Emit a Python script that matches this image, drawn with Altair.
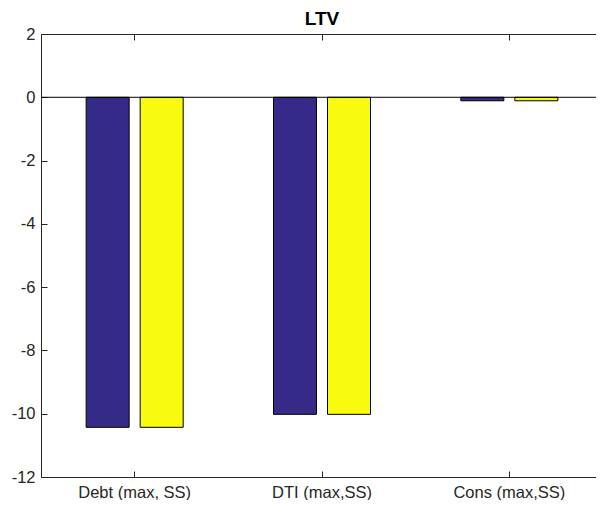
import altair as alt
import pandas as pd

title_text = ["LTV"]
categories = ["Debt (max, SS)", "DTI (max,SS)", "Cons (max,SS)"]
series_names = ["Series 1", "Series 2"]
series1 = [-10.43, -10.02, -0.11]
series2 = [-10.43, -10.02, -0.11]
y_ticks = [-12, -10, -8, -6, -4, -2, 0, 2]
colors = ["#352a87", "#f9fb0e"]

rows = []
for c, a, b in zip(categories, series1, series2):
    rows.append({"cat": c, "series": series_names[0], "value": a})
    rows.append({"cat": c, "series": series_names[1], "value": b})
df = pd.DataFrame(rows)
zero_df = pd.DataFrame({"v": [0]})
title_df = pd.DataFrame({"t": title_text})

W, H = 562, 443
FONT = "Liberation Sans"
AX = "#262626"

xscale = alt.Scale(domain=categories, paddingInner=0, paddingOuter=0)
yscale = alt.Scale(domain=[-12, 2], nice=False, zero=False)
inward = alt.ExprRef(expr="-6")

bars = alt.Chart(df).mark_bar(stroke="black", strokeWidth=1).encode(
    x=alt.X("cat:N", scale=xscale, sort=categories,
            axis=alt.Axis(orient="bottom", title=None, labelAngle=0, grid=False,
                          domain=False, tickSize=inward, tickColor=AX,
                          labelFont=FONT, labelFontSize=16.5, labelColor=AX,
                          labelPadding=13)),
    xOffset=alt.XOffset("series:N", sort=series_names,
                        scale=alt.Scale(paddingInner=0.2037, paddingOuter=0.836)),
    y=alt.Y("value:Q", scale=yscale,
            axis=alt.Axis(orient="left", values=y_ticks, title=None, grid=False,
                          domain=False, tickSize=inward, tickColor=AX,
                          labelFont=FONT, labelFontSize=16.5, labelColor=AX,
                          labelPadding=12, labelExpr="toString(datum.value)")),
    color=alt.Color("series:N", scale=alt.Scale(domain=series_names, range=colors),
                    legend=None),
)

zero = alt.Chart(zero_df).mark_rule(color="black", strokeWidth=1).encode(
    y=alt.Y("v:Q", scale=yscale, axis=None)
)

mirror = alt.Chart(df).mark_point(opacity=0).encode(
    x=alt.X("cat:N", scale=xscale, sort=categories,
            axis=alt.Axis(orient="top", title=None, labels=False, grid=False,
                          domain=False, tickSize=inward, tickColor=AX)),
    y=alt.Y("value:Q", scale=yscale,
            axis=alt.Axis(orient="right", values=y_ticks, title=None, labels=False,
                          grid=False, domain=False, tickSize=inward, tickColor=AX)),
)

title = alt.Chart(title_df).mark_text(
    font=FONT, fontSize=19, fontWeight="bold", color="black",
    align="center", baseline="alphabetic",
).encode(
    text="t:N",
    x=alt.value(W / 2),
    y=alt.value(-9),
)

chart = alt.layer(bars, zero, mirror, title).resolve_axis(
    x="independent", y="independent"
).properties(
    width=W, height=H,
    autosize=alt.AutoSizeParams(type="none"),
    padding={"left": 33, "top": 26, "right": -7, "bottom": 23},
).configure_view(stroke=AX, strokeWidth=1)

chart.save("out.html", embed_options={"renderer": "svg", "actions": False})
